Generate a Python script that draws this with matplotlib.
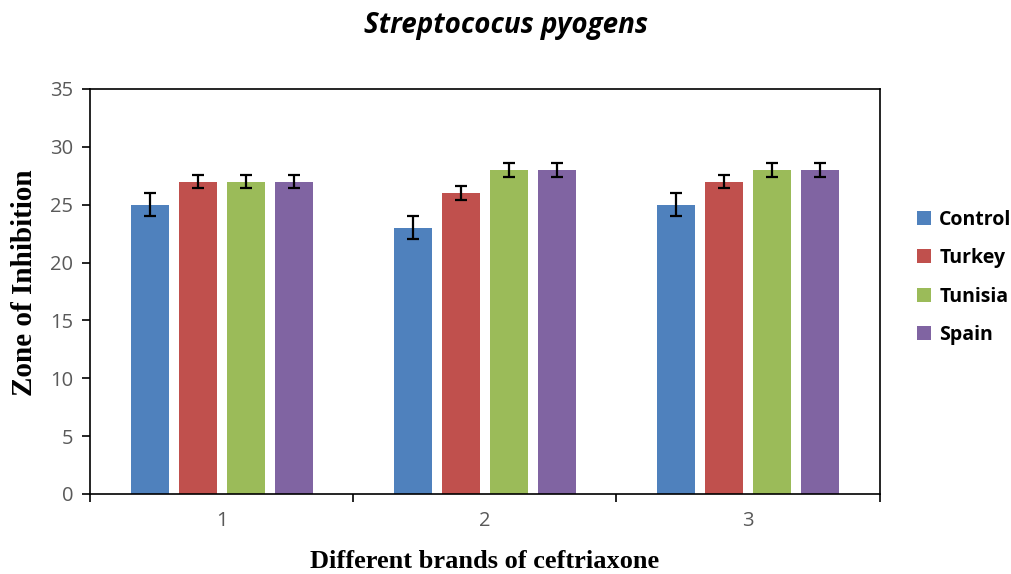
import numpy as np
import matplotlib
matplotlib.use("Agg")
import matplotlib.pyplot as plt

groups = ["1", "2", "3"]
series = ["Control", "Turkey", "Tunisia", "Spain"]
values = {
    "Control": [25, 23, 25],
    "Turkey": [27, 26, 27],
    "Tunisia": [27, 28, 28],
    "Spain": [27, 28, 28],
}
errors = {
    "Control": [1, 1, 1],
    "Turkey": [0.6, 0.6, 0.6],
    "Tunisia": [0.6, 0.6, 0.6],
    "Spain": [0.6, 0.6, 0.6],
}
colors = ["#4F81BD", "#C0504D", "#9BBB59", "#8064A2"]

fig = plt.figure(figsize=(10.11, 5.74), dpi=100)
ax = fig.add_axes([0.089, 0.1394, 0.781, 0.7056])

x = np.arange(len(groups))
step = 0.1825
width = 0.1445
for i, name in enumerate(series):
    pos = x + (i - 1.5) * step
    ax.bar(pos, values[name], width, color=colors[i], label=name,
           yerr=errors[name], capsize=4.3,
           error_kw=dict(elinewidth=1.6, capthick=1.6, ecolor="black"))

ax.set_xlim(-0.5, len(groups) - 0.5)
ax.set_ylim(0, 35)
ax.set_yticks(range(0, 36, 5))
ax.set_xticks(x)
ax.set_xticklabels(groups)
ax.set_xticks(np.arange(-0.5, len(groups), 1), minor=True)
ax.tick_params(axis="x", which="major", length=0, pad=12)
ax.tick_params(axis="x", which="minor", length=6, width=1.2, direction="out")
ax.tick_params(axis="y", length=6, width=1.2, direction="out", pad=6)
for lab in ax.get_xticklabels() + ax.get_yticklabels():
    lab.set_fontfamily("Open Sans")
    lab.set_fontsize(14.5)
    lab.set_color("#595959")
for s in ax.spines.values():
    s.set_linewidth(1.2)

# title sits centred on the figure, not on the axes
ax.set_title("Streptococus pyogens", fontfamily="Open Sans", fontsize=20,
             fontweight="bold", fontstyle="italic", pad=40, x=0.527)
ax.set_ylabel("Zone of Inhibition", fontfamily="Liberation Serif",
              fontsize=21, fontweight="bold")
ax.yaxis.set_label_coords(-0.066, 0.522)
ax.set_xlabel("Different brands of ceftriaxone", fontfamily="Liberation Serif",
              fontsize=19, fontweight="bold", labelpad=14)

leg = ax.legend(loc="center left", bbox_to_anchor=(1.025, 0.535), frameon=False,
                handlelength=0.75, handleheight=0.75, handletextpad=0.4,
                labelspacing=0.95, prop=dict(family="Open Sans", weight="bold", size=14))

fig.savefig("out.png", dpi=100)
